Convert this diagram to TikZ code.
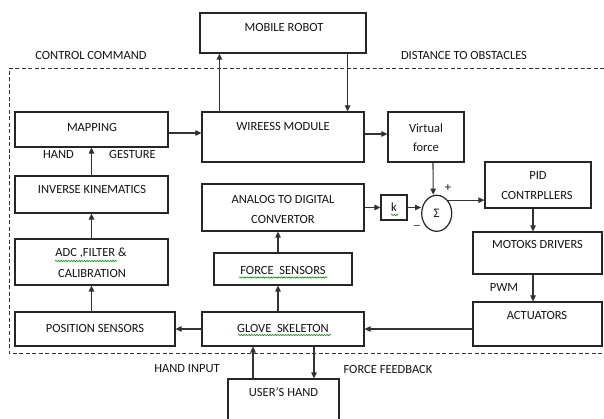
\documentclass[tikz,border=0pt]{standalone}
\usepackage{fontspec}
\setmainfont{Carlito}
\usetikzlibrary{arrows.meta,shapes.geometric,decorations.pathmorphing}
\begin{document}
\begin{tikzpicture}[x=1pt,y=-1pt,
 box/.style={draw=black!85, line width=1.2pt, inner sep=0pt, fill=white},
 txt/.style={anchor=base, inner sep=0pt, text=black!92, font=\fontsize{12.5}{15}\selectfont},
 arr/.style={draw=black!80, line width=1.1pt, -{Triangle[length=6pt,width=5.5pt]}},
 squig/.style={draw=green!55!black, line width=0.6pt, decorate, decoration={snake, amplitude=0.6pt, segment length=2.6pt}},
 dashframe/.style={draw=black!80, line width=0.9pt, dash pattern=on 4pt off 2.5pt}]
\clip (0,0) rectangle (604,419);
\fill[white] (0,0) rectangle (604,419);
% dashed frame
\draw[dashframe] (604,68) -- (9,68) -- (9,353) -- (604,353);
% boxes
\node[box, minimum width=166pt, minimum height=40pt] (mr) at (283,33) {};
\node[box, minimum width=153pt, minimum height=35pt] (map) at (91.5,129.5) {};
\node[box, minimum width=162pt, minimum height=50pt] (wm) at (283,137) {};
\node[box, minimum width=76pt, minimum height=50pt] (vf) at (426,137) {};
\node[box, minimum width=153pt, minimum height=37pt] (ik) at (91.5,194.5) {};
\node[box, minimum width=162pt, minimum height=47pt] (conv) at (283,207.5) {};
\node[box, minimum width=26pt, minimum height=25pt] (k) at (394,207.5) {};
\node[box, ellipse, minimum width=30pt, minimum height=36pt, font=\fontsize{13}{15}\selectfont, text=black!92] (sum) at (436.7,213.3) {Σ};
\node[box, minimum width=106pt, minimum height=46pt] (pid) at (538,185) {};
\node[box, minimum width=129pt, minimum height=42pt] (mot) at (537.5,253) {};
\node[box, minimum width=129pt, minimum height=44pt] (act) at (537.5,324) {};
\node[box, minimum width=153pt, minimum height=46pt] (adc) at (91.5,262) {};
\node[box, minimum width=138pt, minimum height=32pt] (fs) at (283,269) {};
\node[box, minimum width=160pt, minimum height=34pt] (pos) at (95,329) {};
\node[box, minimum width=162pt, minimum height=34pt] (glove) at (283,329) {};
\node[box, minimum width=111pt, minimum height=61pt] (uh) at (283.5,409.5) {};
% texts
\node[txt] (t1) at (284,32) {MOBILE ROBOT};
\node[txt] (t2) at (91,60) {CONTROL COMMAND};
\node[txt] (t3) at (464,60) {DISTANCE TO OBSTACLES};
\node[txt] (t4) at (92,132) {MAPPING};
\node[txt] (t5) at (283,131) {WIREESS MODULE};
\node[txt] (t6) at (426,132.5) {Virtual};
\node[txt] (t7) at (426,151.5) {force};
\node[txt] (t8) at (58.5,159) {HAND};
\node[txt] (t9) at (132.5,159) {GESTURE};
\node[txt] (t10) at (92,194) {INVERSE KINEMATICS};
\node[txt] (t11) at (283,204) {ANALOG TO DIGITAL};
\node[txt] (t12) at (283,224) {CONVERTOR};
\node[txt] (t13) at (394,212) {k};
\node[txt] (t14) at (448,192) {+};
\node[txt] (t15) at (417,225) {\_};
\node[txt] (t16) at (538,180) {PID};
\node[txt] (t17) at (537,200) {CONTRPLLERS};
\node[txt] (t18) at (537.5,249) {MOTOKS DRIVERS};
\node[txt] (t19) at (504,291) {PWM};
\node[txt] (t20) at (537,319) {ACTUATORS};
\node[txt] (t21) at (91,257) {ADC ,FILTER \&};
\node[txt] (t22) at (92,277) {CALIBRATION};
\node[txt] (t23) at (283,274) {FORCE\ \ SENSORS};
\node[txt] (t24) at (95,332) {POSITION SENSORS};
\node[txt] (t25) at (283,332) {GLOVE\ \ SKELETON};
\node[txt] (t26) at (187,372) {HAND INPUT};
\node[txt] (t27) at (388,373) {FORCE FEEDBACK};
\node[txt] (t28) at (283.5,396) {USER’S HAND};
% spell-check squiggles
\draw[squig] (55,261) -- (117,261);
\draw[squig] (239,277.5) -- (327,277.5);
\draw[squig] (238,335) -- (331,335);
\draw[squig] (391,215) -- (398,215);
% connectors
\draw[arr] ([xshift=18pt]wm.north west) -- ([xshift=20pt]mr.south west);
\draw[arr] ([xshift=-19pt]mr.south east) -- ([xshift=-17pt]wm.north east);
\path ([yshift=-3.5pt]map.east) coordinate (a1);
\draw[arr] (a1) -- (a1 -| wm.west);
\draw[arr] ([yshift=3pt]wm.east) -- ([yshift=3pt]vf.west);
\draw[arr] ([xshift=7pt]vf.south) -- ([xshift=-3.5pt]sum.north);
\draw[arr] (sum.50) -- (sum.50 -| pid.west);
\draw[arr] (conv.east) -- (k.west);
\draw[arr] (k.east) -- (k.east -| sum.west);
\draw[arr] ([xshift=-5pt]pid.south) -- ([xshift=-4.5pt]mot.north);
\draw[arr] ([xshift=-4.5pt]mot.south) -- ([xshift=-4.5pt]act.north);
\draw[arr] (act.west |- glove.east) -- (glove.east);
\draw[arr] (glove.west) -- (pos.east);
\draw[arr] (adc.south |- pos.north) -- (adc.south);
\draw[arr] (adc.north) -- (ik.south);
\draw[arr] (ik.north) -- (map.south);
\draw[arr] ([xshift=-5pt]glove.north) -- ([xshift=-5pt]fs.south);
\draw[arr] ([xshift=-5pt]fs.north) -- ([xshift=-5pt]conv.south);
\draw[arr] ([xshift=-30.5pt]uh.north) -- ([xshift=-30pt]glove.south);
\draw[arr] ([xshift=31pt]glove.south) -- ([xshift=30.5pt]uh.north);
\end{tikzpicture}
\end{document}
